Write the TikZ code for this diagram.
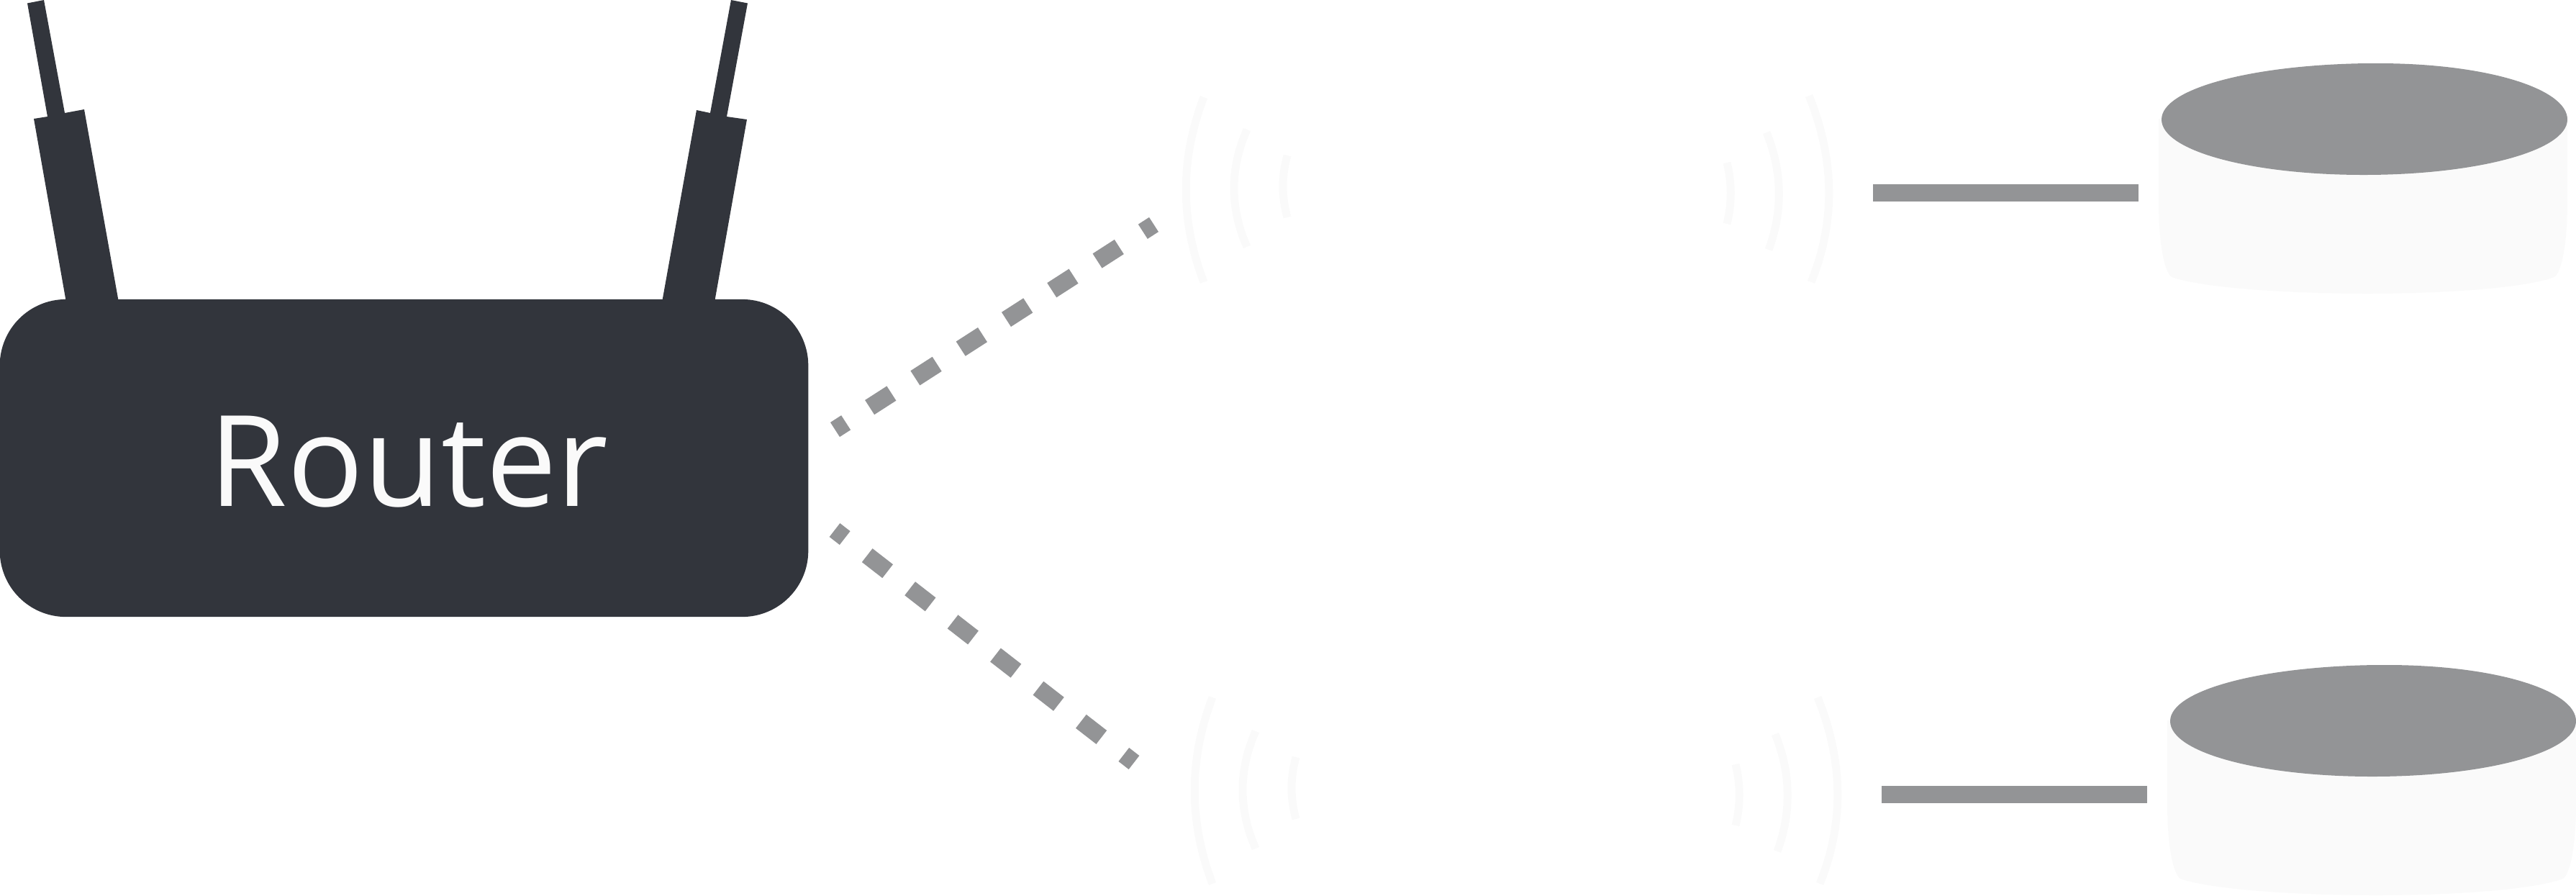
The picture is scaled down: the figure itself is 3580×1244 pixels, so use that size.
\documentclass[tikz,border=0pt]{standalone}
\usepackage{fontspec}
\setmainfont{Open Sans}
\definecolor{routerdark}{HTML}{32353C}
\definecolor{linkgrey}{HTML}{939496}
\definecolor{faint}{HTML}{FAFAFA}
\begin{document}
\begin{tikzpicture}[x=0.01cm,y=-0.01cm,
    routerbody/.style={fill=routerdark, rounded corners=0.92cm, minimum width=11.23cm, minimum height=4.41cm, inner sep=0pt},
    routertext/.style={text=faint, font=\fontsize{50}{60}\selectfont, anchor=base, inner sep=0pt},
    wifi/.style={linkgrey, line width=0.24cm, dash pattern=on 0.36cm off 0.392cm, dash phase=0.18cm},
    wire/.style={linkgrey, line width=0.24cm},
    wave/.style={faint, line width=0.11cm},
    drumtop/.style={fill=linkgrey},
    drumside/.style={fill=faint}
]
    \useasboundingbox (0,0) rectangle (3580,1244);

    % antennas
    \fill[routerdark] (38,4.5) -- (61,0) -- (90,157) -- (117,152) -- (165,420) -- (92,420) -- (47,165) -- (66,162) -- cycle;
    \fill[routerdark] (1016,0) -- (1039,4.5) -- (1010,162) -- (1038,166) -- (993,420) -- (920,420) -- (968,153) -- (987,157) -- cycle;

    % router
    \node[routerbody] (router) at (561.5,636.5) {};
    \node[routertext] (routerlabel) at (568,703) {Router};

    % wireless links
    \coordinate (upstart) at (1160.5,597);
    \coordinate (upend) at (1603.5,312);
    \coordinate (downstart) at (1160,736.5);
    \coordinate (downend) at (1576,1059.5);
    \draw[wifi] (upstart) -- (upend);
    \draw[wifi] (downstart) -- (downend);

    % waves, upper pair
    \draw[wave] (1673,135) .. controls (1640,221) and (1640,306) .. (1673,392);
    \draw[wave] (1733,180) .. controls (1709,234) and (1709,289) .. (1733,343);
    \draw[wave] (1789,216) .. controls (1781,245) and (1781,273) .. (1789,302);
    \draw[wave] (2400,226) .. controls (2407,254) and (2407,283) .. (2400,311);
    \draw[wave] (2455,184) .. controls (2477,238) and (2478,293) .. (2458,347);
    \draw[wave] (2514,133) .. controls (2549,219) and (2552,306) .. (2517,392);

    % waves, lower pair
    \draw[wave] (1685,969) .. controls (1652,1055) and (1652,1142) .. (1685,1228);
    \draw[wave] (1745,1016) .. controls (1721,1070) and (1721,1125) .. (1745,1179);
    \draw[wave] (1801,1052) .. controls (1793,1081) and (1793,1109) .. (1801,1138);
    \draw[wave] (2412,1062) .. controls (2419,1090) and (2419,1119) .. (2412,1147);
    \draw[wave] (2467,1020) .. controls (2489,1074) and (2490,1129) .. (2470,1183);
    \draw[wave] (2526,969) .. controls (2561,1055) and (2564,1142) .. (2529,1228);

    % wires
    \coordinate (wireonea) at (2603,268);
    \coordinate (wireoneb) at (2972,268);
    \coordinate (wiretwoa) at (2615,1104);
    \coordinate (wiretwob) at (2984,1104);
    \draw[wire] (wireonea) -- (wireoneb);
    \draw[wire] (wiretwoa) -- (wiretwob);

    % upper drum
    \fill[drumside] (3000,165) -- (3000,280) .. controls (3000,340) and (3008,378) .. (3018,385)
        .. controls (3060,400) and (3180,408) .. (3290,408) .. controls (3400,408) and (3510,400) .. (3550,385)
        .. controls (3560,378) and (3568,340) .. (3568,280) -- (3568,165) -- cycle;
    \fill[drumtop] (3004,166) .. controls (3004,123) and (3130,90) .. (3290,88) -- (3305,88)
        .. controls (3455,88) and (3568,123) .. (3568,166) .. controls (3568,210) and (3440,243) .. (3285,243)
        .. controls (3130,243) and (3004,210) .. (3004,166) -- cycle;

    % lower drum
    \fill[drumside] (3012,1001) -- (3012,1116) .. controls (3012,1176) and (3020,1214) .. (3030,1221)
        .. controls (3072,1236) and (3192,1244) .. (3302,1244) .. controls (3412,1244) and (3522,1236) .. (3562,1221)
        .. controls (3572,1214) and (3580,1176) .. (3580,1116) -- (3580,1001) -- cycle;
    \fill[drumtop] (3016,1002) .. controls (3016,959) and (3142,926) .. (3302,924) -- (3317,924)
        .. controls (3467,924) and (3580,959) .. (3580,1002) .. controls (3580,1046) and (3452,1079) .. (3297,1079)
        .. controls (3142,1079) and (3016,1046) .. (3016,1002) -- cycle;
\end{tikzpicture}
\end{document}
